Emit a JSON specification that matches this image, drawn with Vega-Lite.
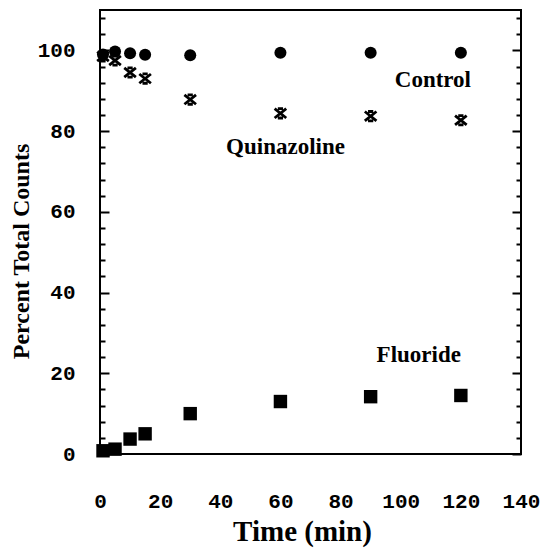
{
  "$schema": "https://vega.github.io/schema/vega-lite/v6.json",
  "width": 421,
  "height": 444,
  "autosize": {"type": "none"},
  "padding": {"left": 100, "top": 10, "right": 19, "bottom": 97},
  "background": "white",
  "config": {
    "view": {"stroke": "black", "strokeWidth": 2},
    "axis": {"grid": false, "domain": false, "tickColor": "black", "tickWidth": 2, "labelColor": "black", "titleColor": "black"}
  },
  "datasets": {
    "control": [
      {"time": 1, "pct": 99.0},
      {"time": 5, "pct": 99.7},
      {"time": 10, "pct": 99.3},
      {"time": 15, "pct": 98.9},
      {"time": 30, "pct": 98.8},
      {"time": 60, "pct": 99.4},
      {"time": 90, "pct": 99.4},
      {"time": 120, "pct": 99.4}
    ],
    "quinazoline": [
      {"time": 1, "pct": 98.5},
      {"time": 5, "pct": 97.5},
      {"time": 10, "pct": 94.5},
      {"time": 15, "pct": 93.0},
      {"time": 30, "pct": 87.8},
      {"time": 60, "pct": 84.4},
      {"time": 90, "pct": 83.7},
      {"time": 120, "pct": 82.7}
    ],
    "fluoride": [
      {"time": 1, "pct": 0.8},
      {"time": 5, "pct": 1.2},
      {"time": 10, "pct": 3.7},
      {"time": 15, "pct": 5.0},
      {"time": 30, "pct": 10.0},
      {"time": 60, "pct": 13.0},
      {"time": 90, "pct": 14.2},
      {"time": 120, "pct": 14.5}
    ],
    "labels": [
      {"label": "Control", "time": 110.7, "pct": 92.7},
      {"label": "Quinazoline", "time": 61.7, "pct": 76.0},
      {"label": "Fluoride", "time": 106.0, "pct": 24.5}
    ]
  },
  "layer": [
    {
      "data": {"name": "control"},
      "mark": {"type": "point", "shape": "circle", "filled": true, "color": "black", "opacity": 1, "size": 145},
      "encoding": {
        "x": {
          "field": "time", "type": "quantitative",
          "scale": {"domain": [0, 140], "nice": false, "zero": false},
          "axis": {
            "orient": "bottom",
            "values": [0, 20, 40, 60, 80, 100, 120, 140],
            "ticks": false,
            "labelFlush": false,
            "labelFont": "Liberation Mono", "labelFontWeight": "bold", "labelFontSize": 21,
            "labelPadding": 36,
            "title": "Time (min)",
            "titleFont": "Liberation Serif", "titleFontWeight": "bold", "titleFontSize": 29,
            "titleX": 202, "titleY": 86, "titleAlign": "center", "titleBaseline": "alphabetic"
          }
        },
        "y": {
          "field": "pct", "type": "quantitative",
          "scale": {"domain": [0, 110], "nice": false, "zero": false},
          "axis": {
            "orient": "left",
            "values": [0, 4, 8, 12, 16, 20, 24, 28, 32, 36, 40, 44, 48, 52, 56, 60, 64, 68, 72, 76, 80, 84, 88, 92, 96, 100, 104, 108],
            "tickSize": {"condition": {"test": "datum.value % 20 === 0", "value": -9}, "value": -5},
            "labelExpr": "datum.value % 20 === 0 ? datum.label : ''",
            "labelFont": "Liberation Mono", "labelFontWeight": "bold", "labelFontSize": 21,
            "labelPadding": 34,
            "labelFlush": false,
            "title": "Percent Total Counts",
            "titleFont": "Liberation Serif", "titleFontWeight": "bold", "titleFontSize": 24,
            "titleAngle": -90, "titleX": -72, "titleY": 241, "titleAlign": "center", "titleBaseline": "alphabetic"
          }
        }
      }
    },
    {
      "data": {"name": "quinazoline"},
      "mark": {"type": "point", "shape": "M-1,-0.8L1,0.8M-1,0.8L1,-0.8M-0.45,-0.8L0.45,-0.8M-0.45,0.8L0.45,0.8", "filled": false, "color": "black", "opacity": 1, "strokeWidth": 2.8, "size": 135},
      "encoding": {
        "x": {"field": "time", "type": "quantitative", "scale": {"domain": [0, 140], "nice": false, "zero": false}},
        "y": {
          "field": "pct", "type": "quantitative",
          "scale": {"domain": [0, 110], "nice": false, "zero": false},
          "axis": {
            "orient": "right",
            "values": [0, 4, 8, 12, 16, 20, 24, 28, 32, 36, 40, 44, 48, 52, 56, 60, 64, 68, 72, 76, 80, 84, 88, 92, 96, 100, 104, 108],
            "tickSize": {"condition": {"test": "datum.value % 20 === 0", "value": -9}, "value": -5},
            "labels": false,
            "title": null
          }
        }
      }
    },
    {
      "data": {"name": "fluoride"},
      "mark": {"type": "point", "shape": "square", "filled": true, "color": "black", "opacity": 1, "size": 180},
      "encoding": {
        "x": {"field": "time", "type": "quantitative", "scale": {"domain": [0, 140], "nice": false, "zero": false}},
        "y": {"field": "pct", "type": "quantitative", "scale": {"domain": [0, 110], "nice": false, "zero": false}, "axis": null}
      }
    },
    {
      "data": {"name": "labels"},
      "mark": {"type": "text", "font": "Liberation Serif", "fontWeight": "bold", "fontSize": 23, "align": "center", "baseline": "middle", "color": "black"},
      "encoding": {
        "x": {"field": "time", "type": "quantitative", "scale": {"domain": [0, 140], "nice": false, "zero": false}},
        "y": {"field": "pct", "type": "quantitative", "scale": {"domain": [0, 110], "nice": false, "zero": false}, "axis": null},
        "text": {"field": "label"}
      }
    }
  ],
  "resolve": {"axis": {"y": "independent"}}
}
